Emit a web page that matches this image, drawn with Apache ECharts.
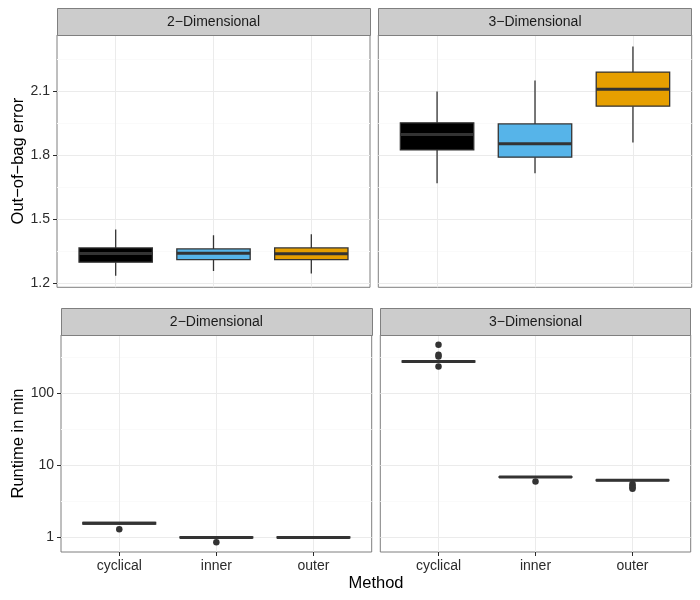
<!DOCTYPE html>
<html><head><meta charset="utf-8">
<script src="https://cdn.jsdelivr.net/npm/echarts@6/dist/echarts.min.js"></script>
<style>html,body{margin:0;padding:0;background:#fff}#c{width:700px;height:600px}</style>
</head><body><div id="c"></div>
<script>
// ---------------- data ----------------
const methods = ['cyclical', 'inner', 'outer'];
const facets = ['2\u2212Dimensional', '3\u2212Dimensional'];
// box stats per method: [lower whisker, Q1, median, Q3, upper whisker]
const oob2D = [
  [1.233, 1.297, 1.338, 1.364, 1.450],
  [1.256, 1.309, 1.339, 1.359, 1.423],
  [1.244, 1.309, 1.336, 1.364, 1.428]
];
const oob3D = [
  [1.667, 1.823, 1.895, 1.950, 2.097],
  [1.714, 1.789, 1.852, 1.945, 2.148],
  [1.858, 2.028, 2.108, 2.188, 2.308]
];
const runtime2D = [
  [1.50, 1.53, 1.57, 1.61, 1.63],
  [0.97, 0.985, 1.00, 1.015, 1.03],
  [0.95, 0.985, 1.00, 1.015, 1.04]
];
const runtime3D = [
  [262, 266, 272, 277, 284],
  [6.70, 6.78, 6.87, 6.95, 7.00],
  [6.05, 6.10, 6.18, 6.26, 6.30]
];
const runtime2DOutliers = [['cyclical', 1.30], ['inner', 0.86]];
const runtime3DOutliers = [
  ['cyclical', 462], ['cyclical', 338], ['cyclical', 318], ['cyclical', 231],
  ['inner', 5.92],
  ['outer', 5.5], ['outer', 5.2], ['outer', 4.9], ['outer', 4.7]
];
const oobTicks = [1.2, 1.5, 1.8, 2.1];
const runtimeTicks = [1, 10, 100];
const yTitles = ['Out\u2212of\u2212bag error', 'Runtime in min'];
const xTitle = 'Method';

// ---------------- styles ----------------
const FONT = '"Liberation Sans", Arial, Helvetica, sans-serif';
const fills = ['#000000', '#56B4E9', '#E69F00'];
const BORDER = '#7f7f7f';
const GRID_MAJOR = '#ebebeb';
const GRID_MINOR = '#fafafa';
const TEXT = '#2b2b2b';

const panels = [
  {left: 57,    top: 35,  width: 313,   height: 252.3},
  {left: 378.3, top: 35,  width: 313.4, height: 252.3},
  {left: 61,    top: 335, width: 310.7, height: 217},
  {left: 380.3, top: 335, width: 310.4, height: 217}
];

// y ranges (ggplot-like 5% expansion of the data range)
const oobAll = oob2D.flat().concat(oob3D.flat());
const oMin = Math.min(...oobAll), oMax = Math.max(...oobAll), oPad = (oMax - oMin) * 0.05;
const oobRange = [oMin - oPad, oMax + oPad];
const rtAll = runtime2D.flat().concat(runtime3D.flat(),
  runtime2DOutliers.map(d => d[1]), runtime3DOutliers.map(d => d[1]));
const lMin = Math.log10(Math.min(...rtAll)), lMax = Math.log10(Math.max(...rtAll)), lPad = (lMax - lMin) * 0.05;
const rtRange = [Math.pow(10, lMin - lPad), Math.pow(10, lMax + lPad)];

// minor grid positions: midpoints between major ticks (linear / log)
function minorLinear(t, r) {
  const st = t[1] - t[0], out = [];
  for (let v = t[0] - st / 2; v <= r[1]; v += st) if (v >= r[0]) out.push(+v.toFixed(6));
  return out;
}
function minorLog(t, r) {
  const out = [];
  for (let k = -1; k < t.length; k++) {
    const v = Math.pow(10, Math.log10(t[0]) + k + 0.5);
    if (v >= r[0] && v <= r[1]) out.push(v);
  }
  return out;
}
const oobMinor = minorLinear(oobTicks, oobRange);
const rtMinor = minorLog(runtimeTicks, rtRange);

const xExpand = 0.6;
const catVals = methods.map((m, i) => i + 1);

const chart = echarts.init(document.getElementById('c'));

const grids = panels.map(p => ({
  left: p.left, top: p.top, width: p.width, height: p.height,
  show: true, borderColor: BORDER, borderWidth: 1, backgroundColor: '#fff'
}));

const xAxes = panels.map((p, i) => ({
  type: 'value', gridIndex: i, min: 1 - xExpand, max: methods.length + xExpand,
  axisLine: {show: false},
  axisTick: {show: i >= 2, customValues: catVals, length: 4, lineStyle: {color: TEXT, width: 1}},
  axisLabel: {show: i >= 2, customValues: catVals, margin: 7,
    formatter: v => methods[Math.round(v) - 1] || '',
    fontFamily: FONT, fontSize: 14, color: TEXT},
  splitLine: {show: true, lineStyle: {color: GRID_MAJOR, width: 1}}
}));

function mainY(i) {
  const top = i < 2;
  const left = i % 2 === 0;
  const ticks = top ? oobTicks : runtimeTicks;
  const r = top ? oobRange : rtRange;
  const ax = {
    type: top ? 'value' : 'log', gridIndex: i, min: r[0], max: r[1],
    axisLine: {show: false},
    axisTick: {show: left, customValues: ticks, length: 4, lineStyle: {color: TEXT, width: 1}},
    axisLabel: {show: left, customValues: ticks, margin: 7,
      formatter: v => top ? v.toFixed(1) : String(Math.round(v)),
      fontFamily: FONT, fontSize: 14, color: TEXT},
    splitLine: {show: true, lineStyle: {color: GRID_MAJOR, width: 1}}
  };
  if (!top) ax.logBase = 10;
  if (left) {
    ax.name = top ? yTitles[0] : yTitles[1];
    ax.nameLocation = 'middle';
    ax.nameGap = top ? 29 : 33;
    ax.nameTextStyle = {fontFamily: FONT, fontSize: 16.5, color: '#000'};
  }
  return ax;
}
function minorY(i) {
  const top = i < 2;
  const r = top ? oobRange : rtRange;
  const ax = {
    type: top ? 'value' : 'log', gridIndex: i, min: r[0], max: r[1],
    axisLine: {show: false},
    axisTick: {show: false, customValues: top ? oobMinor : rtMinor},
    axisLabel: {show: false, customValues: top ? oobMinor : rtMinor},
    splitLine: {show: true, lineStyle: {color: GRID_MINOR, width: 1}}
  };
  if (!top) ax.logBase = 10;
  return ax;
}
const yAxes = [0, 1, 2, 3].map(mainY).concat([0, 1, 2, 3].map(minorY));

function renderBox(params, api) {
  const x = api.value(0);
  const lo = api.value(1), q1 = api.value(2), med = api.value(3), q3 = api.value(4), hi = api.value(5);
  const half = 0.375;
  const pLo = api.coord([x, lo]), pHi = api.coord([x, hi]);
  const pQ1 = api.coord([x, q1]), pQ3 = api.coord([x, q3]), pMed = api.coord([x, med]);
  const xl = api.coord([x - half, med])[0], xr = api.coord([x + half, med])[0];
  const stroke = '#333333';
  return {type: 'group', children: [
    {type: 'line', shape: {x1: pHi[0], y1: pHi[1], x2: pQ3[0], y2: pQ3[1]}, style: {stroke, lineWidth: 1.3}},
    {type: 'line', shape: {x1: pLo[0], y1: pLo[1], x2: pQ1[0], y2: pQ1[1]}, style: {stroke, lineWidth: 1.3}},
    {type: 'rect', shape: {x: xl, y: pQ3[1], width: xr - xl, height: pQ1[1] - pQ3[1]},
      style: {fill: fills[params.dataIndex], stroke, lineWidth: 1.3}},
    {type: 'line', shape: {x1: xl, y1: pMed[1], x2: xr, y2: pMed[1]}, style: {stroke, lineWidth: 3}}
  ]};
}

const boxSets = [oob2D, oob3D, runtime2D, runtime3D];
const series = boxSets.map((set, i) => ({
  type: 'custom', xAxisIndex: i, yAxisIndex: i, clip: true,
  renderItem: renderBox,
  encode: {x: 0, y: [1, 2, 3, 4, 5]},
  data: set.map((s, j) => [j + 1].concat(s)),
  z: 3
}));
[[runtime2DOutliers, 2], [runtime3DOutliers, 3]].forEach(([pts, gi]) => {
  series.push({
    type: 'scatter', xAxisIndex: gi, yAxisIndex: gi, symbol: 'circle', symbolSize: 6.5,
    itemStyle: {color: '#333333', opacity: 1}, z: 4,
    data: pts.map(([m, v]) => [methods.indexOf(m) + 1, v])
  });
});

// facet strips
const graphics = [];
panels.forEach((p, i) => {
  const stripTop = p.top - 26.7;
  graphics.push({
    type: 'rect', z: 10,
    shape: {x: Math.round(p.left) + 0.5, y: Math.round(stripTop) + 0.5, width: Math.round(p.width), height: Math.round(p.top) - Math.round(stripTop)},
    style: {fill: '#cccccc', stroke: BORDER, lineWidth: 1}
  });
  graphics.push({
    type: 'text', z: 11,
    x: p.left + p.width / 2, y: stripTop + 13.5,
    style: {text: facets[i % 2], fontFamily: FONT, fontSize: 14, fill: '#1a1a1a',
      align: 'center', verticalAlign: 'middle'}
  });
});
graphics.push({
  type: 'text', z: 11, x: 376, y: 583,
  style: {text: xTitle, fontFamily: FONT, fontSize: 16.5, fill: '#000', align: 'center', verticalAlign: 'middle'}
});

chart.setOption({
  animation: false,
  backgroundColor: '#ffffff',
  textStyle: {fontFamily: FONT},
  grid: grids,
  xAxis: xAxes,
  yAxis: yAxes,
  series: series,
  graphic: graphics
});
</script>
</body></html>
